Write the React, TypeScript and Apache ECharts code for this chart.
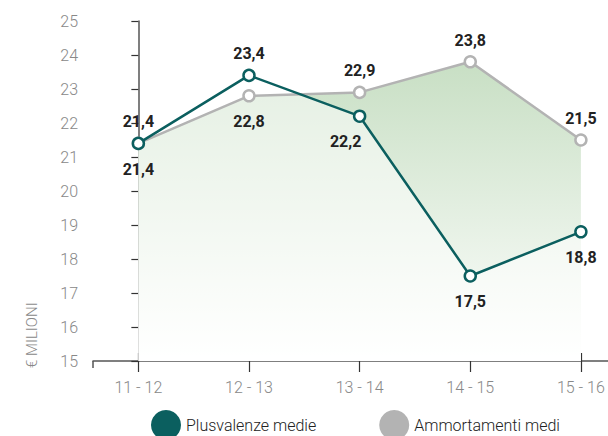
import React, { useEffect, useRef } from "react";
import * as echarts from "echarts";

const categories = ["11 - 12", "12 - 13", "13 - 14", "14 - 15", "15 - 16"];
const plusvalenze = [21.4, 23.4, 22.2, 17.5, 18.8];
const ammortamenti = [21.4, 22.8, 22.9, 23.8, 21.5];
const plusLabelPos = ["top", "top", "bottom", "bottom", "bottom"];
const ammLabelPos = ["bottom", "bottom", "top", "top", "top"];
const seriesNames = ["Plusvalenze medie", "Ammortamenti medi"];
const yTicks = [15, 16, 17, 18, 19, 20, 21, 22, 23, 24, 25];

const TEAL = "#0b5f5f";
const GRAY = "#b3b3b3";
const FONT = "Roboto";

const fmt = (v: number) => v.toFixed(1).replace(".", ",");

export default function App() {
  const ref = useRef<HTMLDivElement>(null);
  useEffect(() => {
    document.body.style.margin = "0";
    if (!ref.current) return;
    const chart = echarts.init(ref.current, null, { renderer: "svg" });
    const idx = categories.map((_, i) => i);
    const labelFor = (pos: string, extra: any = {}) => ({
      show: true,
      position: pos,
      distance: pos === "top" ? 7 : 11,
      formatter: (p: any) => fmt(p.value[1]),
      color: "#222",
      fontFamily: FONT,
      fontWeight: "bold",
      fontSize: 16,
      ...extra,
    });
    const pts = (arr: number[]) => arr.map((v, i) => [i, v]);
    const option: any = {
      animation: false,
      grid: { left: 93, right: 0, top: 21, bottom: 75 },
      xAxis: [
        {
          type: "value",
          min: -0.41,
          max: 4.245,
          axisLine: { show: true, lineStyle: { color: "#555", width: 1.5 } },
          axisTick: {
            show: true,
            customValues: idx,
            length: 11,
            lineStyle: { color: "#333", width: 1.2 },
          },
          axisLabel: {
            customValues: idx,
            formatter: (v: number) => categories[Math.round(v)] ?? "",
            color: "#888",
            fontFamily: FONT,
            fontWeight: 300,
            fontSize: 16,
            margin: 18,
          },
          splitLine: { show: false },
        },
        {
          type: "value",
          position: "bottom",
          min: -0.41,
          max: 4.245,
          axisLine: { show: false },
          axisTick: {
            show: true,
            inside: true,
            customValues: idx,
            length: 8,
            lineStyle: { color: "#333", width: 1.2 },
          },
          axisLabel: { show: false },
          splitLine: { show: false },
        },
      ],
      yAxis: {
        type: "value",
        min: yTicks[0],
        max: yTicks[yTicks.length - 1],
        interval: 1,
        axisLine: { show: true, lineStyle: { color: "#555", width: 1.5 } },
        axisTick: { show: true, length: 7, lineStyle: { color: "#333", width: 1.2 } },
        axisLabel: {
          color: "#888",
          fontFamily: FONT,
          fontWeight: 300,
          fontSize: 16,
          margin: 15,
        },
        splitLine: { show: false },
      },
      legend: {
        left: 151,
        top: 410,
        padding: 0,
        itemWidth: 30,
        itemHeight: 30,
        itemGap: 63,
        textStyle: { color: "#222", fontFamily: FONT, fontWeight: 300, fontSize: 16 },
        data: [
          { name: seriesNames[0], icon: "circle", itemStyle: { color: TEAL, borderWidth: 0 } },
          { name: seriesNames[1], icon: "circle", itemStyle: { color: GRAY, borderWidth: 0 } },
        ],
      },
      graphic: [
        {
          type: "text",
          x: 24,
          y: 368,
          rotation: Math.PI / 2,
          style: {
            text: "€ MILIONI",
            fill: "#888",
            font: `300 15px ${FONT}`,
            align: "left",
            verticalAlign: "top",
          },
        },
        {
          type: "line",
          shape: { x1: 93, y1: 361, x2: 93, y2: 368 },
          style: { stroke: "#555", lineWidth: 1.5 },
        },
      ],
      series: [
        {
          name: seriesNames[1],
          type: "line",
          z: 1,
          data: pts(ammortamenti),
          symbol: "none",
          silent: true,
          lineStyle: { width: 0 },
          areaStyle: {
            opacity: 1,
            color: new echarts.graphic.LinearGradient(0, 0, 0, 1, [
              { offset: 0, color: "#c8dfc4" },
              { offset: 1, color: "#ffffff" },
            ]),
          },
        },
        {
          name: seriesNames[0],
          type: "line",
          z: 2,
          data: pts(plusvalenze),
          symbol: "none",
          silent: true,
          lineStyle: { width: 0 },
          areaStyle: { color: "#ffffff", opacity: 0.5 },
        },
        {
          name: seriesNames[1],
          type: "line",
          z: 3,
          data: ammortamenti.map((v, i) => ({
            value: [i, v],
            label: labelFor(ammLabelPos[i]),
          })),
          symbol: "circle",
          symbolSize: 11,
          itemStyle: { color: "#fff", borderColor: GRAY, borderWidth: 2.5 },
          lineStyle: { color: GRAY, width: 2.5 },
        },
        {
          name: seriesNames[0],
          type: "line",
          z: 4,
          data: plusvalenze.map((v, i) => ({
            value: [i, v],
            label: labelFor(plusLabelPos[i], i === 2 ? { offset: [-14, 0] } : {}),
          })),
          symbol: "circle",
          symbolSize: 11,
          itemStyle: { color: "#fff", borderColor: TEAL, borderWidth: 2.5 },
          lineStyle: { color: TEAL, width: 2.5 },
        },
      ],
    };
    chart.setOption(option);
    return () => chart.dispose();
  }, []);
  return <div ref={ref} style={{ width: 608, height: 436 }} />;
}
